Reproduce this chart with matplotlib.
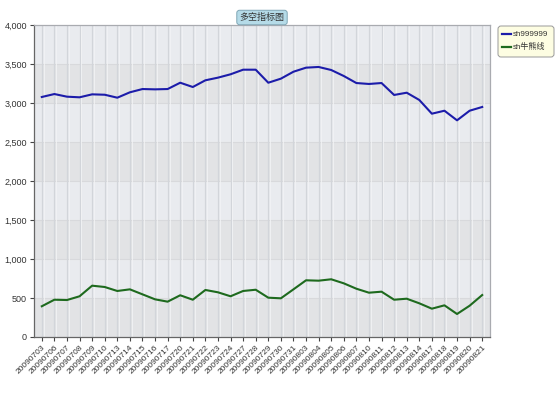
import matplotlib
matplotlib.use("Agg")
import matplotlib.pyplot as plt
from matplotlib.ticker import FuncFormatter
from matplotlib.patches import FancyBboxPatch
from matplotlib.lines import Line2D

plt.rcParams['font.family'] = ['Liberation Sans', 'Noto Sans CJK SC', 'DejaVu Sans']

dates = ["20090703", "20090706", "20090707", "20090708", "20090709", "20090710",
         "20090713", "20090714", "20090715", "20090716", "20090717",
         "20090720", "20090721", "20090722", "20090723", "20090724",
         "20090727", "20090728", "20090729", "20090730", "20090731",
         "20090803", "20090804", "20090805", "20090806", "20090807",
         "20090810", "20090811", "20090812", "20090813", "20090814",
         "20090817", "20090818", "20090819", "20090820", "20090821"]

sh999999 = [3077, 3115, 3081, 3073, 3111, 3106, 3068, 3137, 3179, 3175, 3179,
            3260, 3205, 3291, 3325, 3368, 3427, 3427, 3260, 3312, 3401,
            3453, 3462, 3423, 3346, 3256, 3244, 3256, 3103, 3132, 3039,
            2863, 2901, 2778, 2901, 2949]

sh_bull_bear = [394, 478, 474, 522, 658, 641, 590, 611, 547, 483, 453,
                535, 478, 603, 573, 522, 590, 606, 504, 496, 611,
                727, 722, 740, 688, 619, 568, 581, 478, 491, 432,
                363, 406, 295, 401, 538]

series_names = ["sh999999", "sh牛熊线"]
chart_title = "多空指标图"
y_ticks = [0, 500, 1000, 1500, 2000, 2500, 3000, 3500, 4000]

fig = plt.figure(figsize=(5.6, 3.93), dpi=100)
ax = fig.add_axes([34/560, 1-337/393, (490-34)/560, (337-25)/393])

x = list(range(len(dates)))
ax.set_xlim(-0.62, len(dates) - 1 + 0.62)
ax.set_ylim(0, 4000)

# alternating background bands
ax.set_facecolor('#e9ebef')
for i in range(len(y_ticks) - 1):
    if i % 2 == 0:
        ax.axhspan(y_ticks[i], y_ticks[i+1], color='#e2e3e5', zorder=0, lw=0)
for yv in y_ticks[1:-1]:
    ax.axhline(yv, color='#d8d9dc', lw=0.8, zorder=1)
for xv in x:
    ax.axvline(xv, color='#d2d5da', lw=0.9, zorder=1)
    ax.axvline(xv + 0.15, color='#f2f3f5', lw=0.6, zorder=1)

ax.plot(x, sh999999, color='#1c1caa', lw=1.5, zorder=3)
ax.plot(x, sh_bull_bear, color='#1e6a1e', lw=1.5, zorder=3)

ax.set_yticks(y_ticks)
ax.yaxis.set_major_formatter(FuncFormatter(lambda v, p: f"{int(v):,}"))
ax.set_xticks(x)
ax.set_xticklabels(dates, rotation=45, ha='right', rotation_mode='anchor')
ax.tick_params(axis='y', labelsize=6.5, colors='#444444', length=3, width=0.8, pad=2)
ax.tick_params(axis='x', labelsize=6, colors='#444444', length=3, width=0.8, pad=2)
for lab in ax.get_yticklabels() + ax.get_xticklabels():
    lab.set_color('#333333')

ax.spines['left'].set_color('#666666')
ax.spines['bottom'].set_color('#666666')
ax.spines['top'].set_color('#a9abb0')
ax.spines['right'].set_color('#a9abb0')
for s in ax.spines.values():
    s.set_linewidth(0.9)

# title tab
fig.text(262/560, 1-17.5/393, chart_title, ha='center', va='center', fontsize=6.5,
         color='#333333',
         bbox=dict(boxstyle='round,pad=0.3,rounding_size=0.3', fc='#b5dbe8', ec='#7fa6b5', lw=0.7))

# legend box
leg_ax = fig.add_axes([497/560, 1-58/393, 58/560, 33/393])
leg_ax.set_xlim(0, 58)
leg_ax.set_ylim(33, 0)
leg_ax.axis('off')
box = FancyBboxPatch((1, 1), 56, 31, boxstyle='round,pad=0,rounding_size=3',
                     fc='#fdfde2', ec='#999999', lw=0.7)
leg_ax.add_patch(box)
colors = ['#1c1caa', '#1e6a1e']
for i, (name, c) in enumerate(zip(series_names, colors)):
    yy = 9 + i * 13
    leg_ax.add_line(Line2D([5, 14], [yy, yy], color=c, lw=1.6))
    leg_ax.text(15.5, yy, name, va='center', ha='left', fontsize=5.8, color='#333333')

fig.savefig('out.png', dpi=100)
